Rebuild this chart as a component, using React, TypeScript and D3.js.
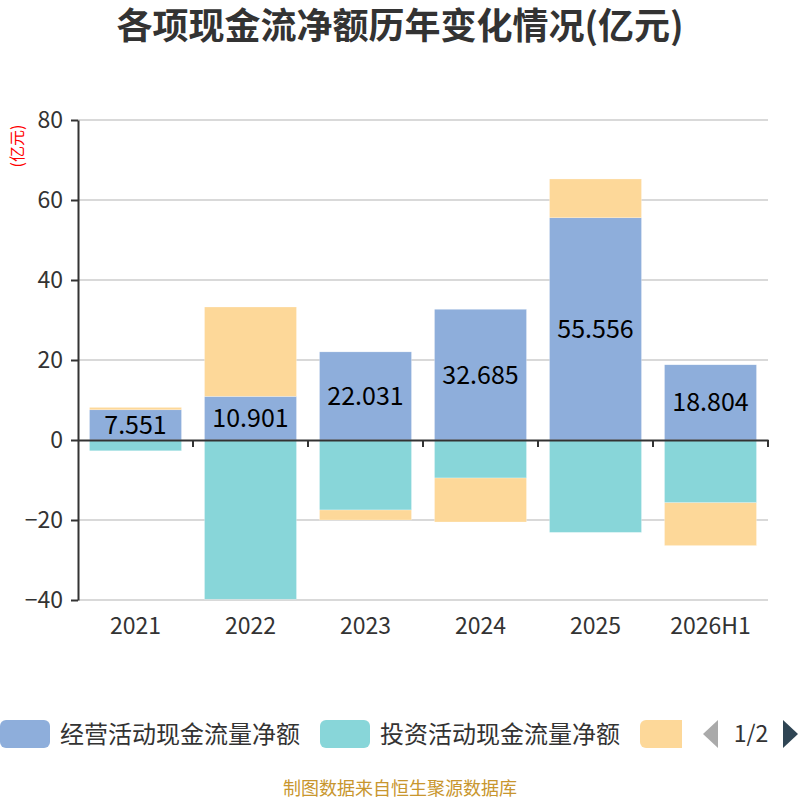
import { useEffect, useRef } from 'react';
import * as d3 from 'd3';

const years = ['2021', '2022', '2023', '2024', '2025', '2026H1'];
const operating = [7.551, 10.901, 22.031, 32.685, 55.556, 18.804];
const investing = [-2.7, -39.8, -17.5, -9.5, -23.1, -15.7];
const financing = [0.6, 22.35, -2.5, -11.0, 9.7, -10.7];
const seriesNames = ['经营活动现金流量净额', '投资活动现金流量净额', '筹资活动现金流量净额'];
const colors = ['#8eaedb', '#88d6d9', '#fdd899'];
const yTicks = [-40, -20, 0, 20, 40, 60, 80];

const FONT = '"Noto Sans CJK SC", "Noto Sans", sans-serif';

export default function App() {
  const svgRef = useRef<SVGSVGElement>(null);

  useEffect(() => {
    if (!svgRef.current) return;
    const svg = d3.select(svgRef.current);
    svg.selectAll('*').remove();

    const margin = { top: 120, right: 32, bottom: 200, left: 78 };
    const width = 800 - margin.left - margin.right;
    const height = 800 - margin.top - margin.bottom;

    // Title
    svg
      .append('text')
      .attr('x', 400)
      .attr('y', 25)
      .attr('dy', '0.4em')
      .attr('text-anchor', 'middle')
      .attr('font-family', FONT)
      .attr('font-size', 36)
      .attr('font-weight', 'bold')
      .attr('fill', '#333')
      .text('各项现金流净额历年变化情况(亿元)');

    // Unit label
    svg
      .append('text')
      .attr('transform', 'translate(23,146) rotate(-90)')
      .attr('text-anchor', 'middle')
      .attr('font-family', FONT)
      .attr('font-size', 16)
      .attr('fill', '#ff0000')
      .text('(亿元)');

    const g = svg.append('g').attr('transform', `translate(${margin.left},${margin.top})`);

    const x = d3
      .scaleBand()
      .domain(years)
      .range([0, width])
      .paddingInner(0.2)
      .paddingOuter(0.1);
    const y = d3.scaleLinear().domain([-40, 80]).range([height, 0]);

    // Grid lines
    g.append('g')
      .selectAll('line')
      .data(yTicks.filter((t) => t !== 0))
      .enter()
      .append('line')
      .attr('x1', 0)
      .attr('x2', width)
      .attr('y1', (d) => y(d))
      .attr('y2', (d) => y(d))
      .attr('stroke', '#cccccc')
      .attr('stroke-width', 1.5);

    // Stacked bars (positive and negative stacks separately)
    const table = years.map((yr, i) => ({
      year: yr,
      s0: operating[i],
      s1: investing[i],
      s2: financing[i],
    }));
    const stack = d3
      .stack<any>()
      .keys(['s0', 's1', 's2'])
      .offset(d3.stackOffsetDiverging);
    const layers = stack(table);

    layers.forEach((layer, li) => {
      g.append('g')
        .selectAll('rect')
        .data(layer)
        .enter()
        .append('rect')
        .attr('x', (d) => x(d.data.year) || 0)
        .attr('width', x.bandwidth())
        .attr('y', (d) => y(Math.max(d[0], d[1])))
        .attr('height', (d) => Math.abs(y(d[0]) - y(d[1])))
        .attr('fill', colors[li])
        .attr('stroke', '#ffffff')
        .attr('stroke-opacity', 0.5)
        .attr('stroke-width', 0.5);
    });

    // Value labels on operating bars
    g.append('g')
      .selectAll('text')
      .data(layers[0])
      .enter()
      .append('text')
      .attr('x', (d) => (x(d.data.year) || 0) + x.bandwidth() / 2)
      .attr('y', (d) => (y(d[0]) + y(d[1])) / 2)
      .attr('dy', '0.36em')
      .attr('text-anchor', 'middle')
      .attr('font-family', FONT)
      .attr('font-size', 25)
      .attr('fill', '#000')
      .text((d) => d3.format('.3f')(d.data.s0));

    // X axis at zero
    const xAxis = g
      .append('g')
      .attr('transform', `translate(0,${y(0)})`)
      .call(d3.axisBottom(x).tickSizeInner(0).tickSizeOuter(0).tickFormat(() => ''));
    xAxis.select('.domain').attr('stroke', '#333').attr('stroke-width', 2);
    const bandEdges = d3.range(years.length + 1).map((i) => i * x.step());
    g.append('g')
      .selectAll('line')
      .data(bandEdges.slice(1))
      .enter()
      .append('line')
      .attr('x1', (d) => d)
      .attr('x2', (d) => d)
      .attr('y1', y(0))
      .attr('y2', y(0) + 7)
      .attr('stroke', '#333')
      .attr('stroke-width', 2);

    // Category labels at bottom
    g.append('g')
      .selectAll('text')
      .data(years)
      .enter()
      .append('text')
      .attr('x', (d) => (x(d) || 0) + x.bandwidth() / 2)
      .attr('y', height + 26)
      .attr('dy', '0.36em')
      .attr('text-anchor', 'middle')
      .attr('font-family', FONT)
      .attr('font-size', 23)
      .attr('fill', '#333')
      .text((d) => d);

    // Y axis
    const yAxis = g
      .append('g')
      .call(d3.axisLeft(y).tickValues(yTicks).tickSize(7).tickSizeOuter(0).tickPadding(8));
    yAxis.select('.domain').attr('stroke', '#333').attr('stroke-width', 2);
    yAxis.selectAll('.tick line').attr('stroke', '#333').attr('stroke-width', 2);
    yAxis
      .selectAll('.tick text')
      .attr('font-family', FONT)
      .attr('font-size', 23)
      .attr('fill', '#333');

    // Legend
    const legend = svg.append('g').attr('transform', 'translate(0,720)');
    const items = [
      { x: 0, name: seriesNames[0], color: colors[0] },
      { x: 320, name: seriesNames[1], color: colors[1] },
    ];
    items.forEach((it) => {
      legend
        .append('rect')
        .attr('x', it.x)
        .attr('y', 0)
        .attr('width', 50)
        .attr('height', 28)
        .attr('rx', 6)
        .attr('fill', it.color);
      legend
        .append('text')
        .attr('x', it.x + 60)
        .attr('y', 14)
        .attr('dy', '0.36em')
        .attr('font-family', FONT)
        .attr('font-size', 24)
        .attr('fill', '#333')
        .text(it.name);
    });
    // third item is cut off by the legend's paging
    legend
      .append('path')
      .attr('d', 'M646,0 H682 V28 H646 A6,6 0 0 1 640,22 V6 A6,6 0 0 1 646,0 Z')
      .attr('fill', colors[2]);
    legend
      .append('path')
      .attr('d', 'M703,14 L718,0 L718,28 Z')
      .attr('fill', '#aaaaaa');
    legend
      .append('text')
      .attr('x', 751)
      .attr('y', 14)
      .attr('dy', '0.36em')
      .attr('text-anchor', 'middle')
      .attr('font-family', FONT)
      .attr('font-size', 23)
      .attr('fill', '#333')
      .text('1/2');
    legend
      .append('path')
      .attr('d', 'M783,0 L798,14 L783,28 Z')
      .attr('fill', '#2f4554');

    // Footer
    svg
      .append('text')
      .attr('x', 400)
      .attr('y', 789)
      .attr('dy', '0.36em')
      .attr('text-anchor', 'middle')
      .attr('font-family', FONT)
      .attr('font-size', 18)
      .attr('fill', '#c8962e')
      .text('制图数据来自恒生聚源数据库');
  }, []);

  return (
    <svg
      ref={svgRef}
      width={800}
      height={800}
      style={{ position: 'absolute', left: 0, top: 0, background: '#fff' }}
    />
  );
}
